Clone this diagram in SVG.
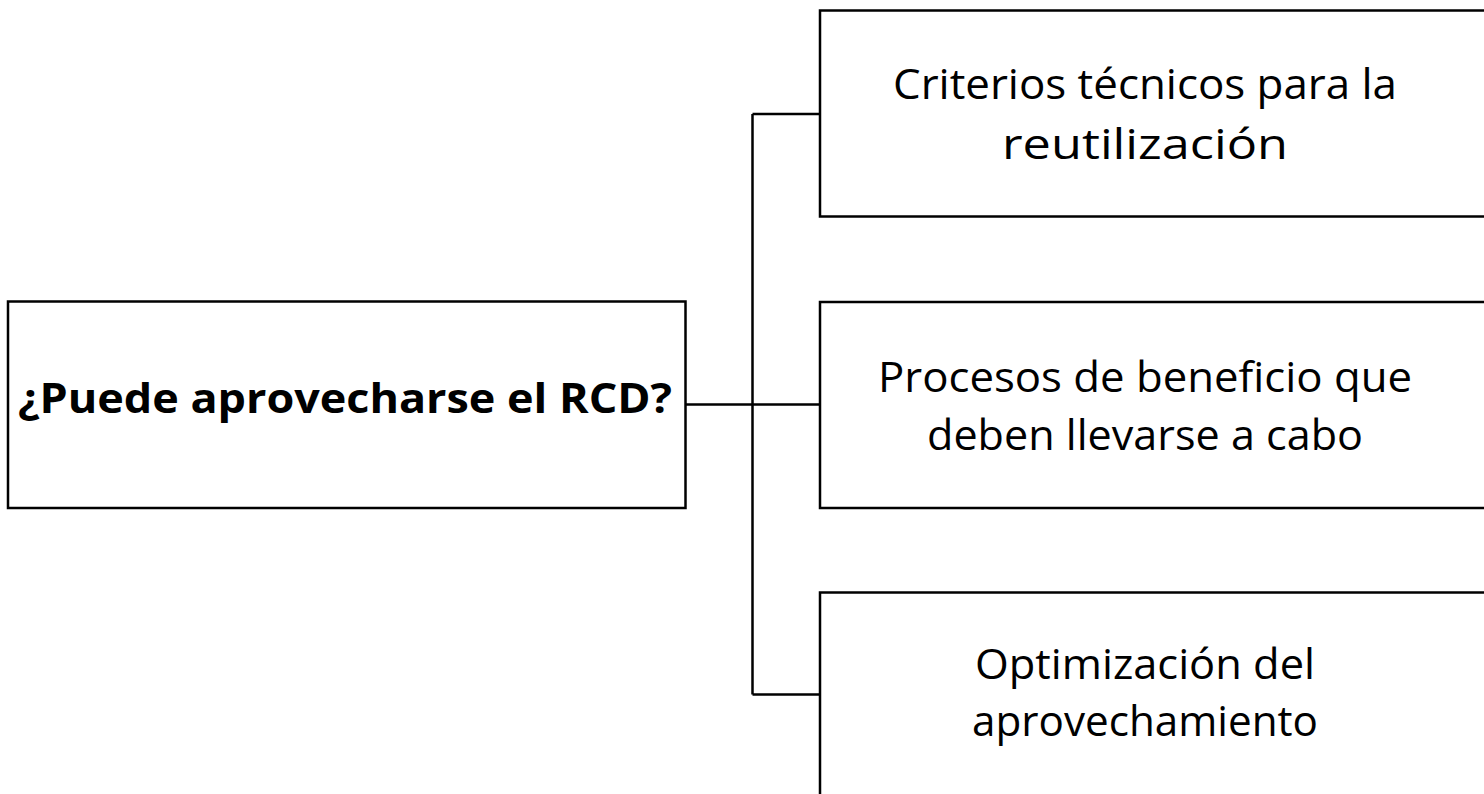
<svg xmlns="http://www.w3.org/2000/svg" width="1484" height="794" viewBox="0 0 1484 794">
<style>
.box{fill:#fff;stroke:#000;stroke-width:2.5}
.t{font-family:"Open Sans","Noto Sans","Liberation Sans",sans-serif;font-size:42px;fill:#000;text-anchor:middle}
.b{font-weight:bold}
.c{fill:none;stroke:#000;stroke-width:2.5}
</style>
<rect width="1484" height="794" fill="#fff"/>
<g id="connectors">
<path class="c" d="M685.5 404.5H752.5M752.5 114H820M752.5 404.5H820M752.5 694.5H820M752.5 114V694.5"/>
</g>
<g id="root">
<rect class="box" x="8" y="301.5" width="677.5" height="206.5"/>
<text class="t b" x="345" y="413" textLength="654" lengthAdjust="spacingAndGlyphs">¿Puede aprovecharse el RCD?</text>
</g>
<g id="n1">
<rect class="box" x="820" y="10.5" width="680" height="206"/>
<text class="t" x="1145" y="99" textLength="504" lengthAdjust="spacingAndGlyphs">Criterios técnicos para la</text>
<text class="t" x="1145" y="159" textLength="286" lengthAdjust="spacingAndGlyphs">reutilización</text>
</g>
<g id="n2">
<rect class="box" x="820" y="302" width="680" height="206"/>
<text class="t" x="1145" y="392" textLength="534" lengthAdjust="spacingAndGlyphs">Procesos de beneficio que</text>
<text class="t" x="1145" y="450" textLength="436" lengthAdjust="spacingAndGlyphs">deben llevarse a cabo</text>
</g>
<g id="n3">
<rect class="box" x="820" y="592.5" width="680" height="220"/>
<text class="t" x="1145" y="679" textLength="340" lengthAdjust="spacingAndGlyphs">Optimización del</text>
<text class="t" x="1145" y="736" textLength="346" lengthAdjust="spacingAndGlyphs">aprovechamiento</text>
</g>
</svg>
